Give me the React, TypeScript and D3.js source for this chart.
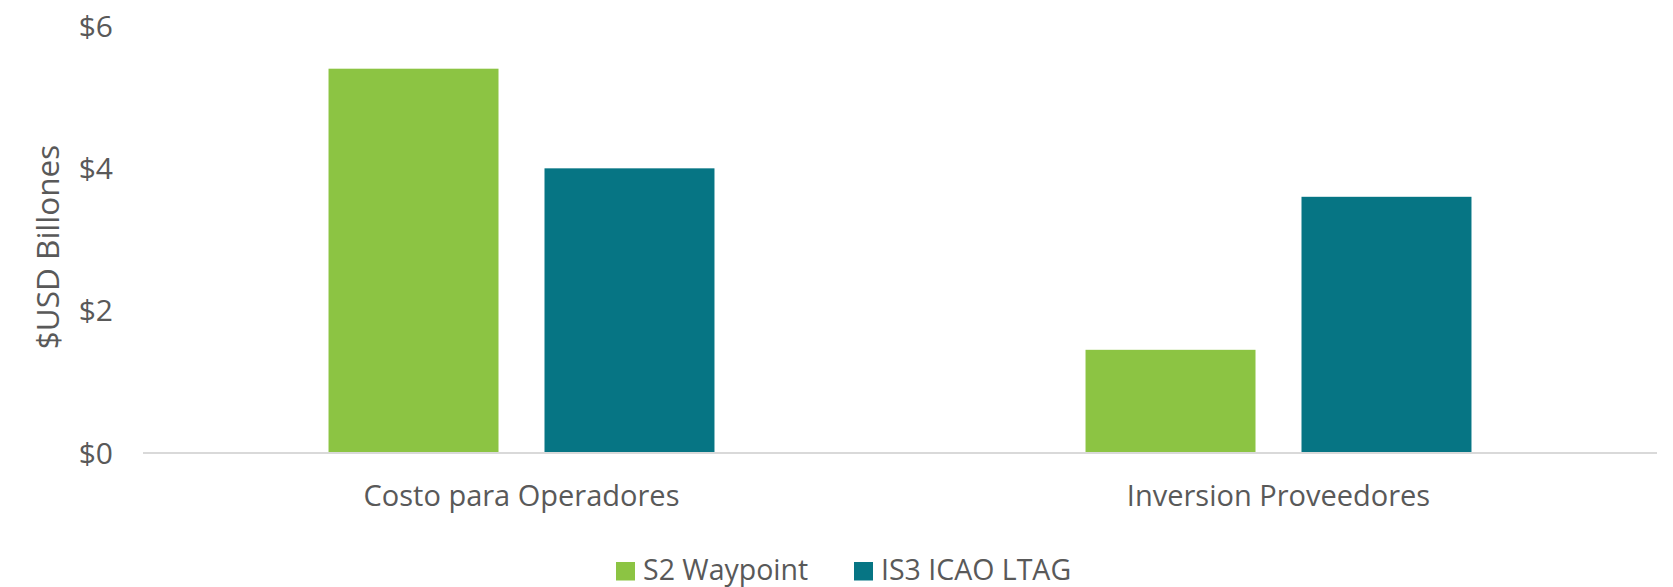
import React from "react";
import * as d3 from "d3";

const categories = ["Costo para Operadores", "Inversion Proveedores"];
const seriesNames = ["S2 Waypoint", "IS3 ICAO LTAG"];
const s2Values = [5.4, 1.45];
const is3Values = [4.0, 3.6];
const yTicks = [0, 2, 4, 6];
const colors = ["#8cc443", "#067584"];

const W = 1673;
const H = 587;
const FONT = "'Open Sans', 'DejaVu Sans', sans-serif";
const TEXT = "#595959";

export default function App() {
  const left = 143;
  const right = 1657;
  const top = 26;
  const bottom = 453;

  const y = d3.scaleLinear().domain([0, 6]).range([bottom, top]);
  const x0 = d3.scaleBand<string>().domain(categories).range([left, right]).paddingInner(0).paddingOuter(0);
  const x1 = d3
    .scaleBand<string>()
    .domain(seriesNames)
    .range([0, x0.bandwidth()])
    .paddingInner(0.213)
    .paddingOuter(0.859);

  const values = [s2Values, is3Values];

  return (
    <svg width={W} height={H} style={{ position: "absolute", left: 0, top: 0, background: "#fff" }}>
      <rect width={W} height={H} fill="#fff" />
      {yTicks.map((t) => (
        <text
          key={t}
          x={113}
          y={y(t)}
          dy="0.35em"
          textAnchor="end"
          fontFamily={FONT}
          fontSize={30}
          fill={TEXT}
        >
          {"$" + t}
        </text>
      ))}
      <text
        transform={`translate(48,247) rotate(-90)`}
        textAnchor="middle"
        dy="0.35em"
        fontFamily={FONT}
        fontSize={31.5}
        fill={TEXT}
      >
        $USD Billones
      </text>
      {categories.map((c, ci) =>
        seriesNames.map((s, si) => {
          const v = values[si][ci];
          return (
            <rect
              key={c + s}
              x={(x0(c) as number) + (x1(s) as number)}
              y={y(v)}
              width={x1.bandwidth()}
              height={y(0) - y(v)}
              fill={colors[si]}
            />
          );
        })
      )}
      <line x1={left} x2={right} y1={y(0)} y2={y(0)} stroke="#d9d9d9" strokeWidth={2} />
      {categories.map((c) => (
        <text
          key={c}
          x={(x0(c) as number) + x0.bandwidth() / 2}
          y={496}
          dy="0.35em"
          textAnchor="middle"
          fontFamily={FONT}
          fontSize={29}
          fill={TEXT}
        >
          {c}
        </text>
      ))}
      {seriesNames.map((s, i) => {
        const lx = [616, 854][i];
        return (
          <g key={s}>
            <rect x={lx} y={562} width={19} height={18.5} fill={colors[i]} />
            <text x={lx + 27} y={570} dy="0.35em" fontFamily={FONT} fontSize={28.5} fill={TEXT}>
              {s}
            </text>
          </g>
        );
      })}
    </svg>
  );
}
